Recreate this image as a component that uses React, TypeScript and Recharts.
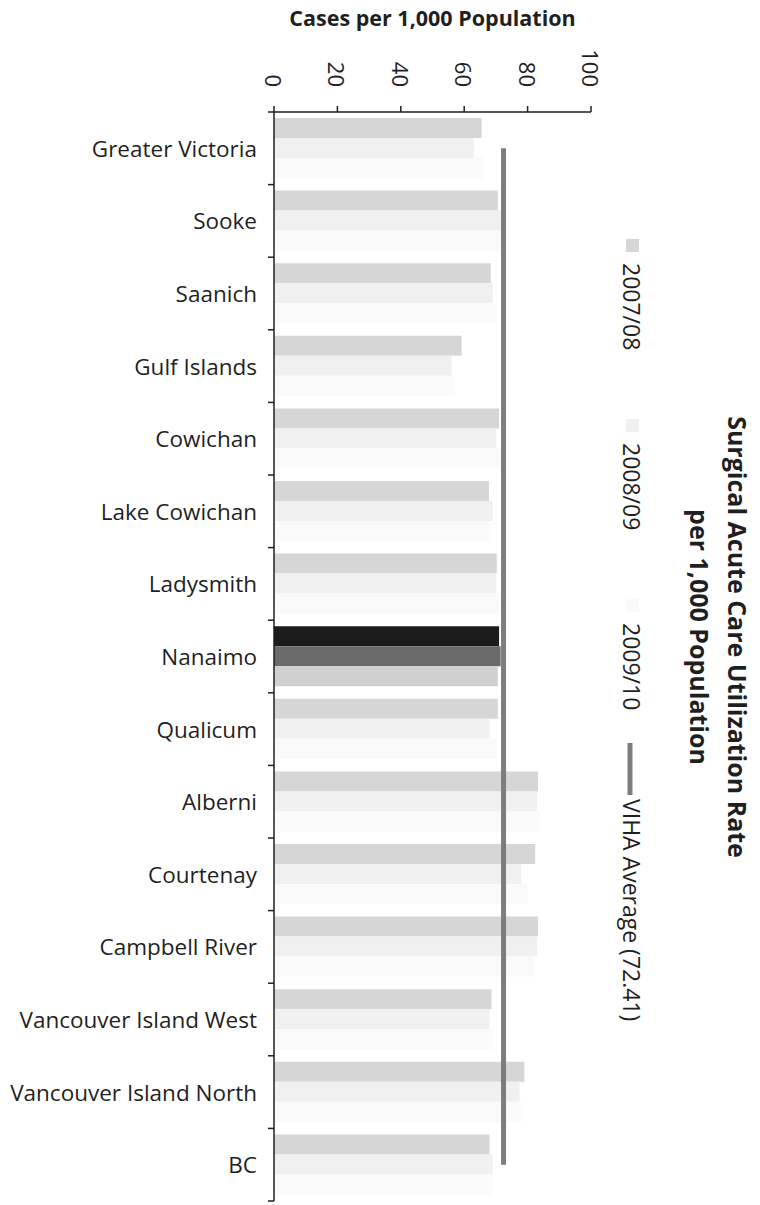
import { ComposedChart, Bar, Line, XAxis, YAxis, Cell, Legend, Label } from 'recharts';

// health areas, top to bottom
const categories = [
  'Greater Victoria',
  'Sooke',
  'Saanich',
  'Gulf Islands',
  'Cowichan',
  'Lake Cowichan',
  'Ladysmith',
  'Nanaimo',
  'Qualicum',
  'Alberni',
  'Courtenay',
  'Campbell River',
  'Vancouver Island West',
  'Vancouver Island North',
  'BC',
];

const rate0708 = [65.5, 70.6, 68.4, 59.2, 71.0, 67.8, 70.3, 71.0, 70.6, 83.3, 82.4, 83.3, 68.6, 79.0, 68.0];
const rate0809 = [63.0, 73.0, 69.0, 56.0, 70.0, 69.0, 70.0, 71.5, 68.0, 83.0, 78.0, 83.0, 68.0, 77.5, 69.0];
const rate0910 = [66.0, 72.0, 70.0, 57.0, 72.0, 68.0, 71.0, 70.6, 70.0, 84.0, 80.0, 82.0, 69.0, 78.0, 69.0];
const vihaAverage = [72.41, 72.41, 72.41, 72.41, 72.41, 72.41, 72.41, 72.41, 72.41, 72.41, 72.41, 72.41, 72.41, 72.41, 72.41];

const xTicks = [0, 20, 40, 60, 80, 100];
const seriesNames = ['2007/08', '2008/09', '2009/10'];
const avgName = 'VIHA Average (72.41)';
const highlighted = 'Nanaimo';

const COLORS = ['#d6d6d6', '#f0f0f0', '#fafafa'];
const HIGHLIGHT_COLORS = ['#1c1c1c', '#6b6b6b', '#d0d0d0'];
const INK = '#1f1f1f';
const FONT = '"Open Sans", sans-serif';

const W = 760;
const H = 1205;
const MARGIN = { top: 0, right: 169, bottom: 4, left: 0 };
const X_AXIS_H = 112;
const Y_AXIS_W = 274;
const halfBand = (H - MARGIN.top - MARGIN.bottom - X_AXIS_H) / categories.length / 2;

const data = categories.map((name, i) => ({
  name,
  r0708: rate0708[i],
  r0809: rate0809[i],
  r0910: rate0910[i],
  avg: vihaAverage[i],
}));

const seriesKeys = ['r0708', 'r0809', 'r0910'];

function ValueTick(props: any) {
  const { x, y, payload } = props;
  return (
    <text
      x={x}
      y={y}
      transform={`rotate(90 ${x} ${y})`}
      textAnchor="end"
      dominantBaseline="central"
      fontSize={22}
      fontFamily={FONT}
      fill={INK}
    >
      {payload.value}
    </text>
  );
}

function CategoryTick(props: any) {
  const { x, y, payload, index } = props;
  const axisX = x + 17;
  const last = index === categories.length - 1;
  return (
    <g>
      <line x1={axisX - 6} x2={axisX} y1={y - halfBand} y2={y - halfBand} stroke={INK} strokeWidth={1.5} />
      {last && <line x1={axisX - 6} x2={axisX} y1={y + halfBand} y2={y + halfBand} stroke={INK} strokeWidth={1.5} />}
      <text x={x} y={y} textAnchor="end" dominantBaseline="central" fontSize={22.5} fontFamily={FONT} fill={INK}>
        {payload.value}
      </text>
    </g>
  );
}

function RotatedLegend() {
  const starts = [263, 443, 623];
  const cx = 41;
  return (
    <svg width={169} height={H} style={{ overflow: 'visible' }}>
      {seriesNames.map((name, i) => (
        <g key={name}>
          <rect x={cx - 6} y={starts[i] - 24} width={13} height={13} fill={COLORS[i]} />
          <text
            x={cx}
            y={starts[i]}
            transform={`rotate(90 ${cx} ${starts[i]})`}
            dominantBaseline="central"
            fontSize={23}
            fontFamily={FONT}
            fill={INK}
          >
            {name}
          </text>
        </g>
      ))}
      <line x1={cx - 2} x2={cx - 2} y1={743} y2={795} stroke="#7d7d7d" strokeWidth={5} />
      <text
        x={cx}
        y={799}
        transform={`rotate(90 ${cx} 799)`}
        dominantBaseline="central"
        fontSize={23}
        fontFamily={FONT}
        fill={INK}
      >
        {avgName}
      </text>
    </svg>
  );
}

export default function App() {
  return (
    <div style={{ position: 'absolute', left: 0, top: 0, width: W, height: H, background: '#fff' }}>
      <ComposedChart
        width={W}
        height={H}
        data={data}
        layout="vertical"
        margin={MARGIN}
        barGap={0}
        style={{ fontFamily: FONT }}
      >
        <XAxis
          type="number"
          orientation="top"
          domain={[0, 100]}
          ticks={xTicks}
          height={X_AXIS_H}
          tick={<ValueTick />}
          tickSize={6}
          tickMargin={19}
          stroke={INK}
          strokeWidth={1.5}
        >
          <Label
            value="Cases per 1,000 Population"
            position="insideTop"
            offset={11}
            fontSize={21.5}
            fontWeight="bold"
            fill={INK}
            fontFamily={FONT}
          />
        </XAxis>
        <YAxis
          type="category"
          dataKey="name"
          width={Y_AXIS_W}
          tick={<CategoryTick />}
          tickLine={false}
          tickSize={6}
          tickMargin={11}
          interval={0}
          stroke={INK}
          strokeWidth={1.5}
        />
        {seriesKeys.map((key, s) => (
          <Bar key={key} dataKey={key} name={seriesNames[s]} barSize={20} fill={COLORS[s]} isAnimationActive={false}>
            {categories.map((c) => (
              <Cell key={c} fill={c === highlighted ? HIGHLIGHT_COLORS[s] : COLORS[s]} />
            ))}
          </Bar>
        ))}
        <Line
          dataKey="avg"
          name={avgName}
          type="linear"
          stroke="#7d7d7d"
          strokeWidth={5}
          dot={false}
          isAnimationActive={false}
        />
        <Legend
          layout="vertical"
          align="center"
          verticalAlign="middle"
          content={() => <RotatedLegend />}
          wrapperStyle={{ left: 591, top: 0, width: 169, height: H }}
        />
      </ComposedChart>
      <svg
        width={W}
        height={H}
        style={{ position: 'absolute', left: 0, top: 0, pointerEvents: 'none' }}
      >
        <g transform="translate(738 637) rotate(90)">
          <text x={0} y={0} textAnchor="middle" dominantBaseline="central" fontSize={25} fontWeight="bold" fontFamily={FONT} fill={INK}>
            Surgical Acute Care Utilization Rate
          </text>
        </g>
        <g transform="translate(700 637) rotate(90)">
          <text x={0} y={0} textAnchor="middle" dominantBaseline="central" fontSize={25} fontWeight="bold" fontFamily={FONT} fill={INK}>
            per 1,000 Population
          </text>
        </g>
      </svg>
    </div>
  );
}
